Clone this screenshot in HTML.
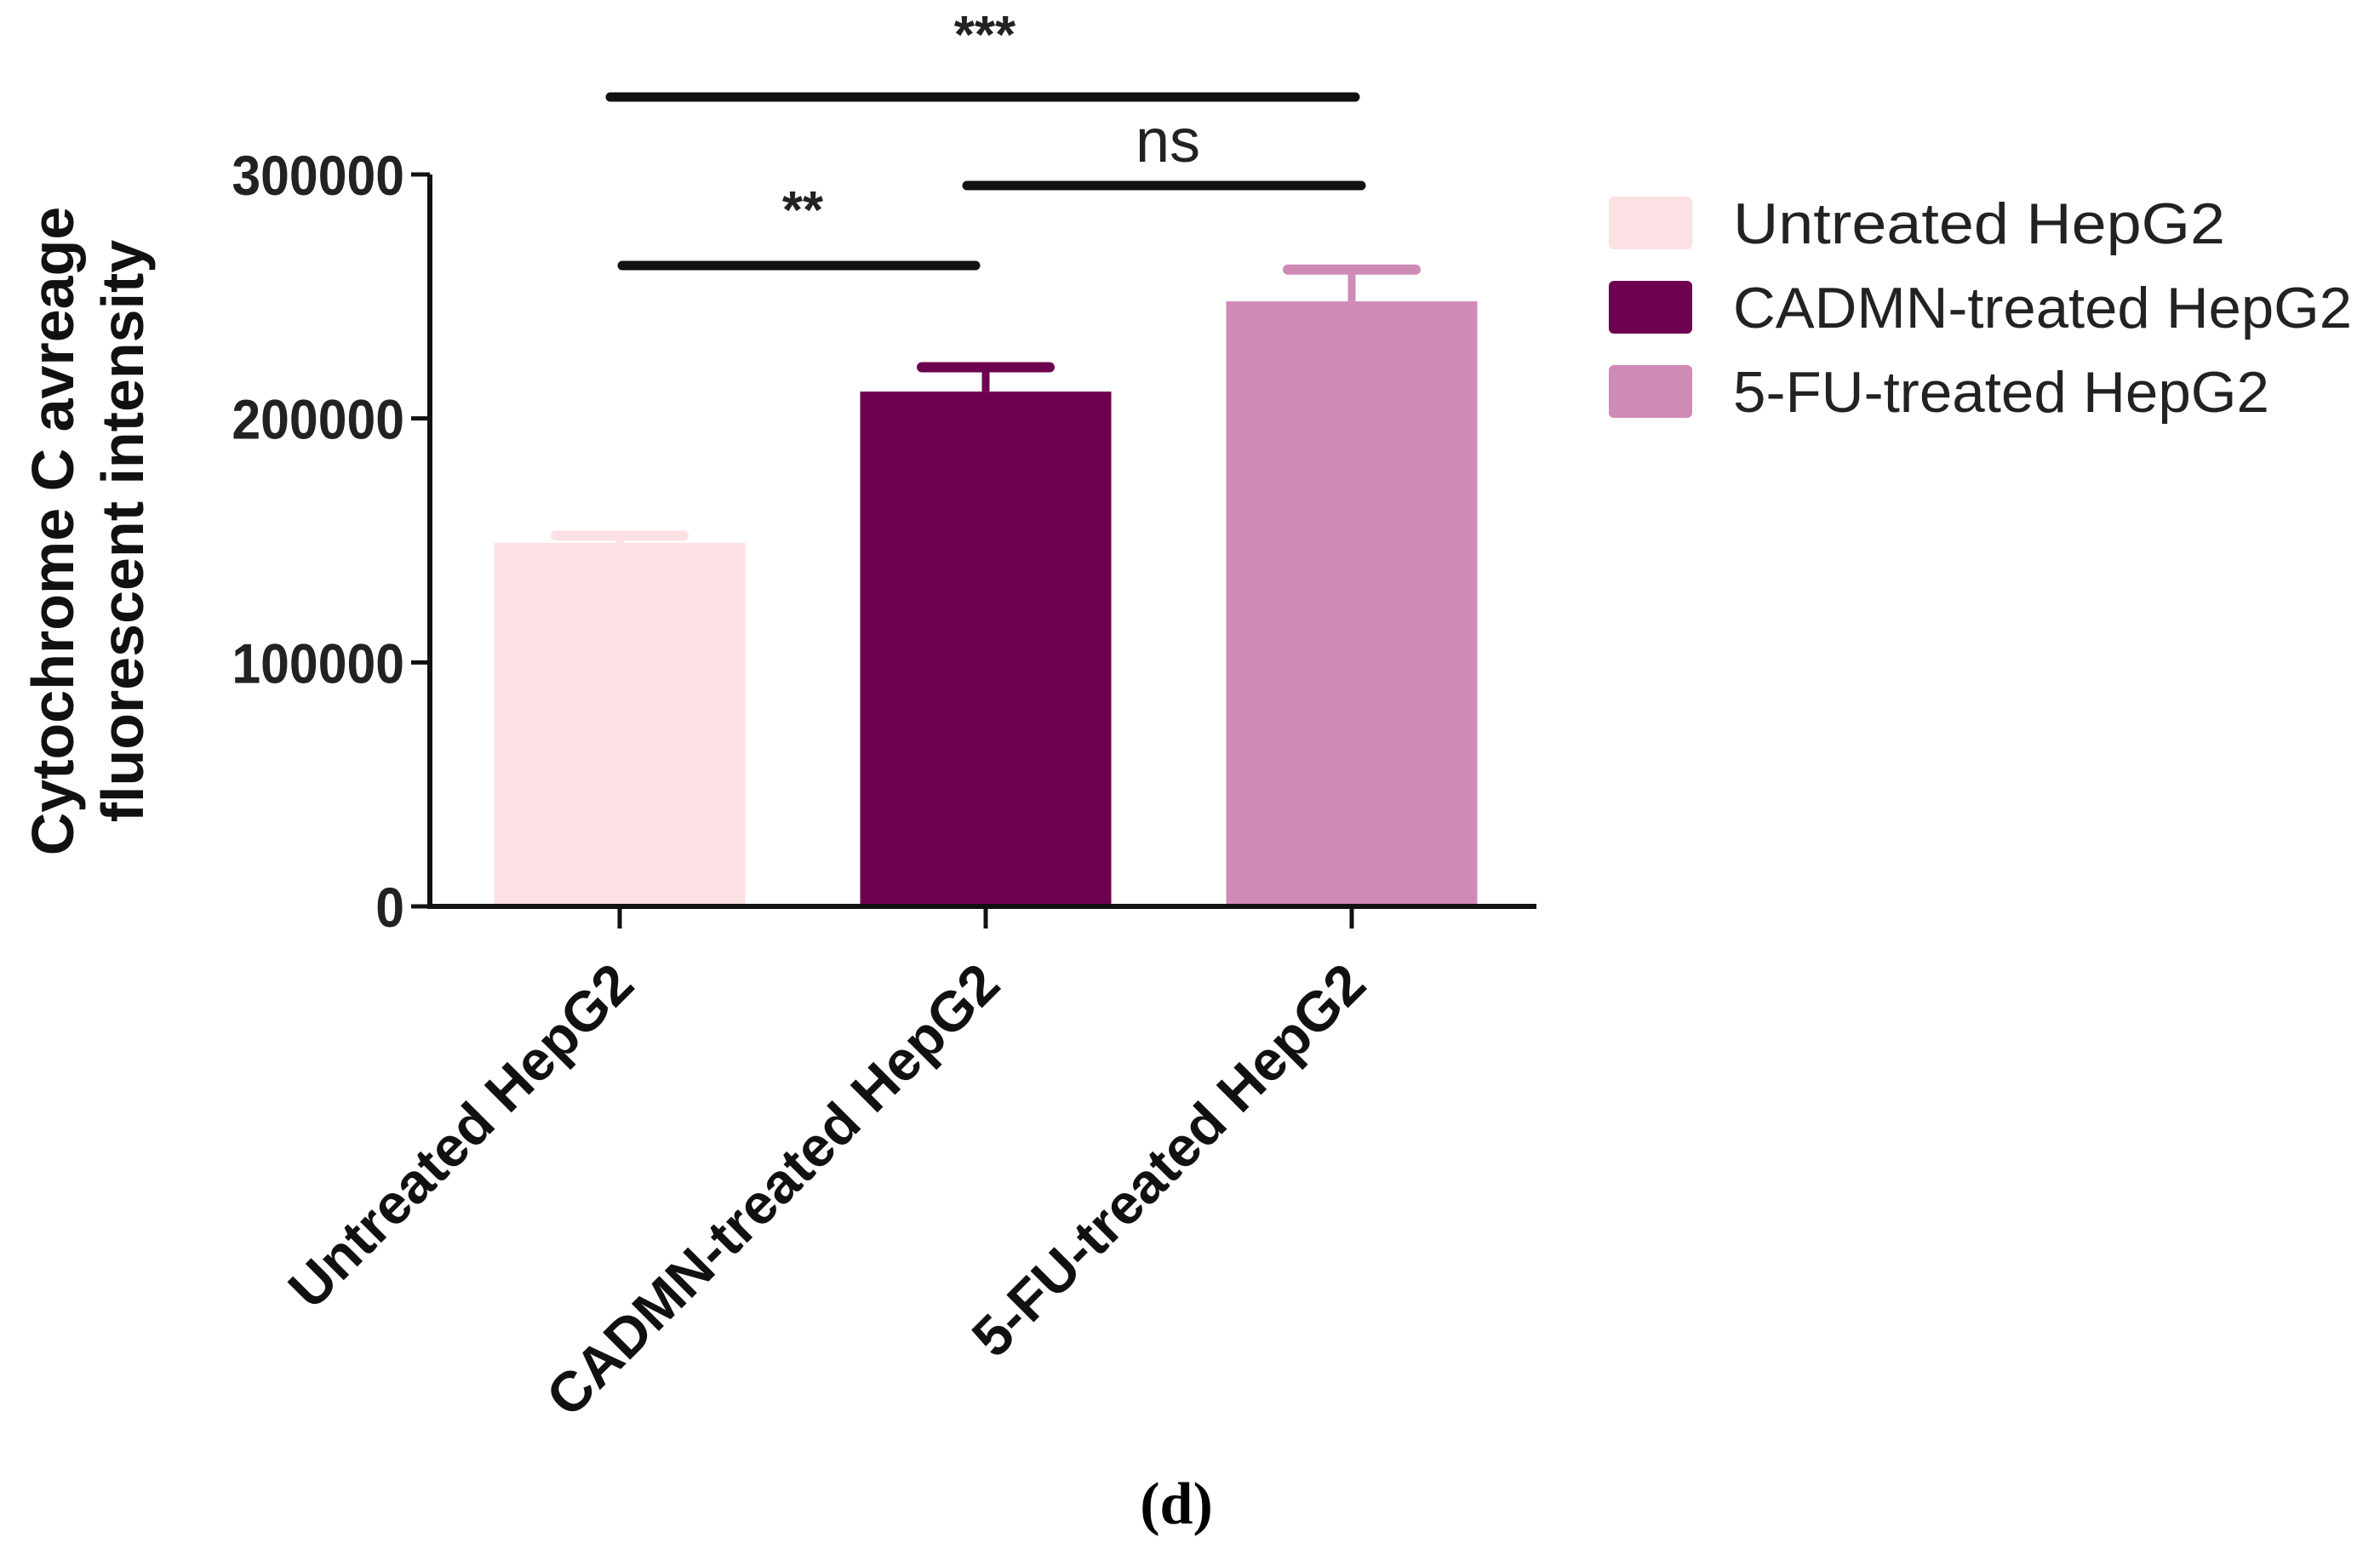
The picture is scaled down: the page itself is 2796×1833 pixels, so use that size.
<!DOCTYPE html>
<html><head><meta charset="utf-8"><style>
html,body{margin:0;padding:0;background:#fff;}
svg{display:block;}
</style></head><body>
<svg id="chart" width="2796" height="1833" viewBox="0 0 2796 1833" xmlns="http://www.w3.org/2000/svg">
<g id="plot"></g>
</svg>
<script>
const categories = ["Untreated HepG2", "CADMN-treated HepG2", "5-FU-treated HepG2"];
const values = [149000, 211000, 248000];
const errors = [3000, 10000, 13000];
const colors = ["#fde0e3", "#6e0050", "#d08ab6"];
const yTicks = [0, 100000, 200000, 300000];
const yTickLabels = ["0", "100000", "200000", "300000"];
const sigLabels = ["***", "ns", "**"];

const NS = "http://www.w3.org/2000/svg";
const g = document.getElementById("plot");
const x0 = 505, x1 = 1805, yBase = 1065, yTop = 205, yMax = 300000;
function yScale(v){ return yBase - (v / yMax) * (yBase - yTop); }
const barW = 295, step = 430, firstCenter = 728;
function xCenter(i){ return firstCenter + i * step; }
function el(tag, attrs, text){
  const e = document.createElementNS(NS, tag);
  for (const k in attrs) e.setAttribute(k, attrs[k]);
  if (text !== undefined) e.textContent = text;
  g.appendChild(e);
  return e;
}

categories.forEach((c, i) => {
  const cx = xCenter(i), top = yScale(values[i]);
  const b = el("rect", {x: cx - barW/2, y: top, width: barW, height: yBase - top, fill: colors[i]});
  
  
  const et = yScale(values[i] + errors[i]);
  const ev = el("line", {x1: cx, x2: cx, y1: top, y2: et, stroke: colors[i], "stroke-width": 9});
  
  
  const ec = el("line", {x1: cx - 75, x2: cx + 75, y1: et, y2: et, stroke: colors[i], "stroke-width": 12, "stroke-linecap": "round"});
  
  
  const t = el("line", {x1: cx, x2: cx, y1: yBase, y2: yBase + 26, stroke: "#111", "stroke-width": 5});
  
  
  const lx = cx + 20, ly = yBase + 95;
  const lbl = el("text", {x: lx, y: ly, "text-anchor": "end", transform: `rotate(-45 ${lx} ${ly})`, "font-family": "Liberation Sans, sans-serif", "font-weight": "bold", "font-size": 66, fill: "#111"}, c);
  
  
});

const ya = el("line", {x1: x0, x2: x0, y1: yTop, y2: yBase + 2, stroke: "#111", "stroke-width": 6});


const xa = el("line", {x1: x0 - 3, x2: x1, y1: yBase, y2: yBase, stroke: "#111", "stroke-width": 6});


yTicks.forEach((v, i) => {
  const y = yScale(v);
  const t = el("line", {x1: x0 - 22, x2: x0, y1: y, y2: y, stroke: "#111", "stroke-width": 5});
  
  
  const l = el("text", {x: x0 - 30, y: y + 24, "text-anchor": "end", "font-family": "Liberation Sans, sans-serif", "font-weight": "bold", "font-size": 66, fill: "#222", transform: `translate(${(x0-30)*0.08} 0) scale(0.92 1)`}, yTickLabels[i]);
  
  
});

const yt1 = el("text", {x: 0, y: 0, "text-anchor": "middle", transform: "translate(86 624) rotate(-90)", "font-family": "Liberation Sans, sans-serif", "font-weight": "bold", "font-size": 70, fill: "#111"}, "Cytochrome C avreage");


const yt2 = el("text", {x: 0, y: 0, "text-anchor": "middle", transform: "translate(168 624) rotate(-90)", "font-family": "Liberation Sans, sans-serif", "font-weight": "bold", "font-size": 70, fill: "#111"}, "fluorescent intensity");



const sig = [
  {xa: 717, xb: 1592, y: 114, ty: 62, tx: 1157, fs: 62, fw: "bold"},
  {xa: 1136, xb: 1599, y: 218, ty: 190, tx: 1372, fs: 72, fw: "normal"},
  {xa: 731, xb: 1146, y: 312, ty: 268, tx: 943, fs: 62, fw: "bold"}
];
sig.forEach((s, i) => {
  const l = el("line", {x1: s.xa, x2: s.xb, y1: s.y, y2: s.y, stroke: "#111", "stroke-width": 11, "stroke-linecap": "round"});
  
  
  const t = el("text", {x: s.tx, y: s.ty, "text-anchor": "middle", "font-family": "Liberation Sans, sans-serif", "font-weight": s.fw, "font-size": s.fs, fill: "#222"}, sigLabels[i]);
  
  
});

categories.forEach((c, i) => {
  const cy = 262 + i * 99;
  const r = el("rect", {x: 1890, y: cy - 31, width: 98, height: 62, rx: 6, fill: colors[i]});
  
  
  const t = el("text", {x: 2036, y: cy + 24, "font-family": "Liberation Sans, sans-serif", "font-size": 68, fill: "#222", textLength: [578, 727, 630][i], lengthAdjust: "spacingAndGlyphs"}, c);
  
  
});

const cap = el("text", {x: 1382, y: 1790, "text-anchor": "middle", "font-family": "Liberation Serif, serif", "font-weight": "bold", "font-size": 70, fill: "#000"}, "(d)");


</script>
</body></html>
